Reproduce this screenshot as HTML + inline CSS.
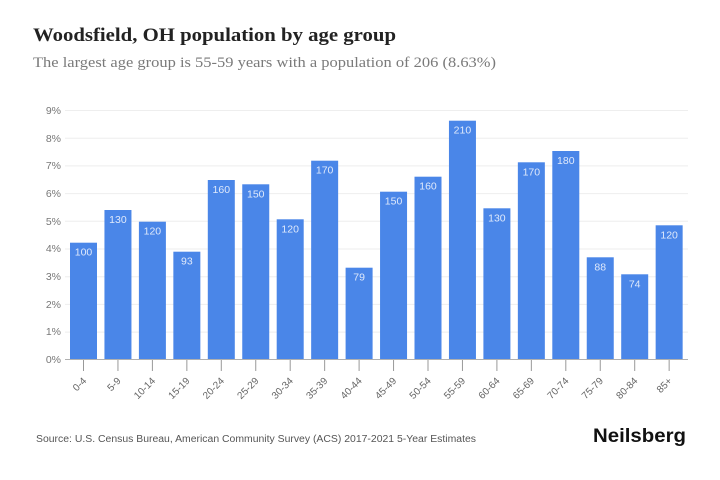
<!DOCTYPE html>
<html>
<head>
<meta charset="utf-8">
<style>
  html,body{margin:0;padding:0;background:#fff;}
  svg{display:block;}
</style>
</head>
<body>
<svg width="720" height="480" viewBox="0 0 720 480" xmlns="http://www.w3.org/2000/svg">
  <rect width="720" height="480" fill="#fff"/>
  <text x="33" y="41" font-family="'Liberation Serif', serif" font-weight="bold" font-size="19" fill="#222" textLength="363" lengthAdjust="spacingAndGlyphs">Woodsfield, OH population by age group</text>
  <text x="33" y="67" font-family="'Liberation Serif', serif" font-size="15" fill="#7a7a7a" textLength="463" lengthAdjust="spacingAndGlyphs">The largest age group is 55-59 years with a population of 206 (8.63%)</text>

  <!-- gridlines -->
  <g stroke="#eeeeee" stroke-width="1">
    <line x1="65" x2="688" y1="110.5" y2="110.5"/>
    <line x1="65" x2="688" y1="138.2" y2="138.2"/>
    <line x1="65" x2="688" y1="165.9" y2="165.9"/>
    <line x1="65" x2="688" y1="193.6" y2="193.6"/>
    <line x1="65" x2="688" y1="221.3" y2="221.3"/>
    <line x1="65" x2="688" y1="249" y2="249"/>
    <line x1="65" x2="688" y1="276.7" y2="276.7"/>
    <line x1="65" x2="688" y1="304.4" y2="304.4"/>
    <line x1="65" x2="688" y1="332.1" y2="332.1"/>
  </g>

  <!-- y labels -->
  <g font-family="'Liberation Sans', sans-serif" font-size="10.5" fill="#777" text-anchor="end">
    <text x="61" y="114">9%</text>
    <text x="61" y="142">8%</text>
    <text x="61" y="169">7%</text>
    <text x="61" y="197">6%</text>
    <text x="61" y="225">5%</text>
    <text x="61" y="252">4%</text>
    <text x="61" y="280">3%</text>
    <text x="61" y="308">2%</text>
    <text x="61" y="335">1%</text>
    <text x="61" y="363">0%</text>
  </g>

  <!-- bars -->
  <g fill="#4a86e8">
    <rect x="70" y="242.7" width="27" height="116.8"/>
    <rect x="104.45" y="210" width="27" height="149.5"/>
    <rect x="138.9" y="221.7" width="27" height="137.8"/>
    <rect x="173.35" y="251.7" width="27" height="107.8"/>
    <rect x="207.8" y="180" width="27" height="179.5"/>
    <rect x="242.25" y="184.3" width="27" height="175.2"/>
    <rect x="276.7" y="219.3" width="27" height="140.2"/>
    <rect x="311.15" y="160.7" width="27" height="198.8"/>
    <rect x="345.6" y="267.7" width="27" height="91.8"/>
    <rect x="380.05" y="191.7" width="27" height="167.8"/>
    <rect x="414.5" y="176.7" width="27" height="182.8"/>
    <rect x="448.95" y="120.7" width="27" height="238.8"/>
    <rect x="483.4" y="208.3" width="27" height="151.2"/>
    <rect x="517.85" y="162.3" width="27" height="197.2"/>
    <rect x="552.3" y="151" width="27" height="208.5"/>
    <rect x="586.75" y="257.3" width="27" height="102.2"/>
    <rect x="621.2" y="274.3" width="27" height="85.2"/>
    <rect x="655.65" y="225.3" width="27" height="134.2"/>
  </g>

  <!-- bar value labels -->
  <g font-family="'Liberation Sans', sans-serif" font-size="10.5" fill="#dfe9fb" text-anchor="middle">
    <text x="83.5" y="255.7">100</text>
    <text x="117.95" y="223">130</text>
    <text x="152.4" y="234.7">120</text>
    <text x="186.85" y="264.7">93</text>
    <text x="221.3" y="193">160</text>
    <text x="255.75" y="197.3">150</text>
    <text x="290.2" y="232.3">120</text>
    <text x="324.65" y="173.7">170</text>
    <text x="359.1" y="280.7">79</text>
    <text x="393.55" y="204.7">150</text>
    <text x="428" y="189.7">160</text>
    <text x="462.45" y="133.7">210</text>
    <text x="496.9" y="221.3">130</text>
    <text x="531.35" y="175.3">170</text>
    <text x="565.8" y="164">180</text>
    <text x="600.25" y="270.3">88</text>
    <text x="634.7" y="287.3">74</text>
    <text x="669.15" y="238.3">120</text>
  </g>

  <!-- axis line -->
  <line x1="65" x2="688" y1="359.5" y2="359.5" stroke="#b0b0b0" stroke-width="1"/>

  <!-- ticks -->
  <g stroke="#999" stroke-width="1">
    <line x1="83.5" x2="83.5" y1="360" y2="371"/>
    <line x1="117.95" x2="117.95" y1="360" y2="371"/>
    <line x1="152.4" x2="152.4" y1="360" y2="371"/>
    <line x1="186.85" x2="186.85" y1="360" y2="371"/>
    <line x1="221.3" x2="221.3" y1="360" y2="371"/>
    <line x1="255.75" x2="255.75" y1="360" y2="371"/>
    <line x1="290.2" x2="290.2" y1="360" y2="371"/>
    <line x1="324.65" x2="324.65" y1="360" y2="371"/>
    <line x1="359.1" x2="359.1" y1="360" y2="371"/>
    <line x1="393.55" x2="393.55" y1="360" y2="371"/>
    <line x1="428" x2="428" y1="360" y2="371"/>
    <line x1="462.45" x2="462.45" y1="360" y2="371"/>
    <line x1="496.9" x2="496.9" y1="360" y2="371"/>
    <line x1="531.35" x2="531.35" y1="360" y2="371"/>
    <line x1="565.8" x2="565.8" y1="360" y2="371"/>
    <line x1="600.25" x2="600.25" y1="360" y2="371"/>
    <line x1="634.7" x2="634.7" y1="360" y2="371"/>
    <line x1="669.15" x2="669.15" y1="360" y2="371"/>
  </g>

  <!-- x labels -->
  <g font-family="'Liberation Sans', sans-serif" font-size="10" fill="#666" text-anchor="end">
    <text transform="translate(87,381.5) rotate(-45)">0-4</text>
    <text transform="translate(121.45,381.5) rotate(-45)">5-9</text>
    <text transform="translate(155.9,381.5) rotate(-45)">10-14</text>
    <text transform="translate(190.35,381.5) rotate(-45)">15-19</text>
    <text transform="translate(224.8,381.5) rotate(-45)">20-24</text>
    <text transform="translate(259.25,381.5) rotate(-45)">25-29</text>
    <text transform="translate(293.7,381.5) rotate(-45)">30-34</text>
    <text transform="translate(328.15,381.5) rotate(-45)">35-39</text>
    <text transform="translate(362.6,381.5) rotate(-45)">40-44</text>
    <text transform="translate(397.05,381.5) rotate(-45)">45-49</text>
    <text transform="translate(431.5,381.5) rotate(-45)">50-54</text>
    <text transform="translate(465.95,381.5) rotate(-45)">55-59</text>
    <text transform="translate(500.4,381.5) rotate(-45)">60-64</text>
    <text transform="translate(534.85,381.5) rotate(-45)">65-69</text>
    <text transform="translate(569.3,381.5) rotate(-45)">70-74</text>
    <text transform="translate(603.75,381.5) rotate(-45)">75-79</text>
    <text transform="translate(638.2,381.5) rotate(-45)">80-84</text>
    <text transform="translate(672.65,381.5) rotate(-45)">85+</text>
  </g>

  <!-- footer -->
  <text x="36" y="442" font-family="'Liberation Sans', sans-serif" font-size="10" fill="#555" textLength="440" lengthAdjust="spacingAndGlyphs">Source: U.S. Census Bureau, American Community Survey (ACS) 2017-2021 5-Year Estimates</text>
  <text x="593" y="442" font-family="'Liberation Sans', sans-serif" font-weight="bold" font-size="19" fill="#111" textLength="93" lengthAdjust="spacingAndGlyphs">Neilsberg</text>
</svg>
</body>
</html>
